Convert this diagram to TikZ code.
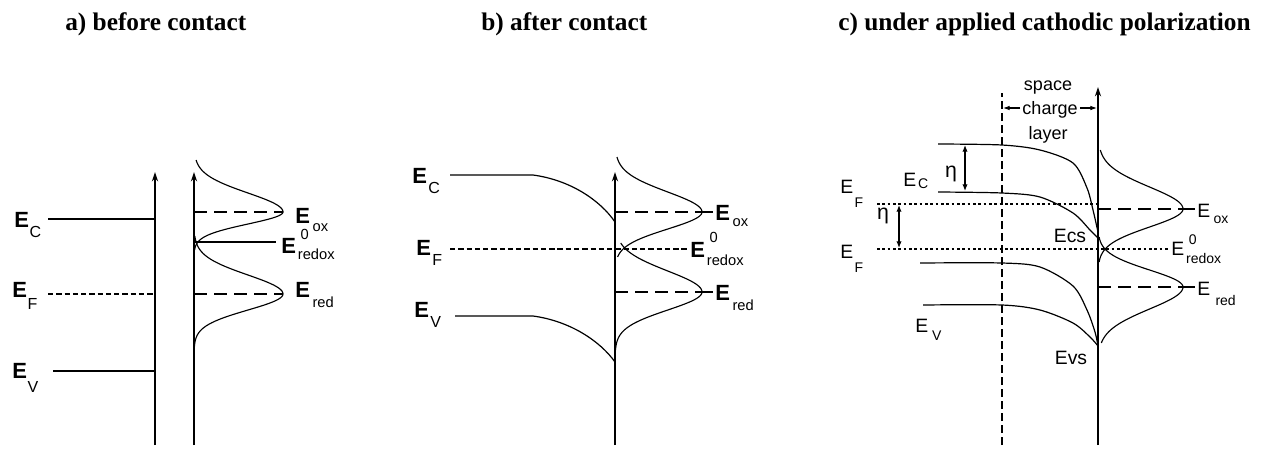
\documentclass[tikz,border=0pt]{standalone}
\usepackage{fontspec}
\setmainfont{Liberation Serif}
\setsansfont{Liberation Sans}
\usetikzlibrary{arrows.meta}
\newcommand\Es[4]{E\kern#1\raisebox{-#2}{\mdseries\fontsize{#3}{#3}\selectfont #4}}
\newcommand\Erx[5]{E\kern#1\makebox[0pt][l]{\kern#5\raisebox{#2}{\mdseries\fontsize{#4}{#4}\selectfont 0}}\raisebox{-#3}{\mdseries\fontsize{#4}{#4}\selectfont redox}}
\newcommand\lobe[7]{\draw[curve] plot[domain=#6:#7,samples=80,smooth,variable=\t] ({#1+#2*exp(-(\t*\t)/(2*ifthenelse(\t<0,#4,#5)^2))},{#3+\t});}
\begin{document}
\begin{tikzpicture}[x=0.75pt,y=-0.75pt,
 axis/.style={line width=1.5pt,-{Stealth[length=7pt,width=4.5pt]}},
 band/.style={line width=0.9pt},
 curve/.style={line width=0.85pt},
 sdash/.style={line width=0.9pt,dash pattern=on 4pt off 2.2pt},
 ldash/.style={line width=0.9pt,dash pattern=on 10pt off 5pt},
 fdot/.style={line width=0.8pt,dash pattern=on 2pt off 2pt},
 vdash/.style={line width=0.9pt,dash pattern=on 6pt off 3pt},
 harrow/.style={line width=0.9pt,{Latex[length=5pt,width=4pt]}-{Latex[length=5pt,width=4pt]}},
 sarrow/.style={line width=0.8pt,-{Latex[length=5pt,width=3.5pt]}},
 title/.style={inner sep=0pt,anchor=base west,font=\bfseries\fontsize{19}{19}\selectfont},
 labA/.style={inner sep=0pt,anchor=base west,font=\sffamily\bfseries\fontsize{16.5}{16.5}\selectfont},
 labC/.style={inner sep=0pt,anchor=base west,font=\sffamily\fontsize{14.5}{14.5}\selectfont},
 small/.style={inner sep=0pt,anchor=base,font=\sffamily\fontsize{13.5}{13.5}\selectfont},
]
\useasboundingbox (0,0) rectangle (1264,451);
% titles
\node[title] (ta) at (65,30) {a) before contact};
\node[title] (tb) at (481,30) {b) after contact};
\node[title] (tc) at (838,30) {c) under applied cathodic polarization};

% ---------- panel a ----------
\coordinate (a1b) at (155,445); \coordinate (a1t) at (155,172);
\coordinate (a2b) at (194,445); \coordinate (a2t) at (194,172);
\draw[axis] (a1b) -- (a1t);
\draw[axis] (a2b) -- (a2t);
\node[labA] (aEC) at (14,227) {\Es{0.5pt}{8pt}{12}{C}};
\node[labA] (aEF) at (12,297) {\Es{0.5pt}{9.5pt}{12}{F}};
\node[labA] (aEV) at (12,378) {\Es{0.5pt}{11pt}{12}{V}};
\draw[band] (48,219) -- (155,219);
\draw[sdash] (48,294) -- (155,294);
\draw[band] (53,371) -- (155,371);
\lobe{194}{89}{212}{19}{12}{-52}{38}
\lobe{194}{89}{294}{19}{16}{-58}{56}
\draw[ldash] (194,212) -- (283,212);
\draw[ldash] (194,294) -- (283,294);
\draw[band] (194,242) -- (276,242);
\node[labA] (aEox) at (295,223) {\Es{2pt}{6.5pt}{11}{ox}};
\node[labA] (aErx) at (281,253) {\Erx{1.5pt}{10.5pt}{4.5pt}{11}{2pt}};
\node[labA] (aEred) at (295,297) {\Es{2pt}{7.5pt}{11}{red}};

% ---------- panel b ----------
\coordinate (bb) at (615,445); \coordinate (bt) at (615,172);
\draw[axis] (bb) -- (bt);
\node[labA] (bEC) at (412,183) {\Es{1pt}{7.5pt}{12}{C}};
\node[labA] (bEF) at (416,255) {\Es{1pt}{7.5pt}{12}{F}};
\node[labA] (bEV) at (414,317) {\Es{1pt}{8pt}{12}{V}};
\draw[band] (450,175) -- (533,175) .. controls (570,180) and (600,200) .. (615,222);
\draw[band] (455,316) -- (533,316) .. controls (570,321) and (600,341) .. (615,362);
\draw[sdash] (450,249) -- (687,249);
\lobe{615}{87}{212}{20}{17}{-55}{45}
\lobe{615}{87}{292}{21}{18}{-49}{58}
\draw[ldash] (615,212) -- (702,212);
\draw[ldash] (615,292) -- (702,292);
\draw[band] (702,212) -- (713,212);
\draw[band] (702,292) -- (713,292);
\node[labA] (bEox) at (715,220) {\Es{2pt}{5pt}{11}{ox}};
\node[labA] (bErx) at (690,257) {\Erx{1.5pt}{11pt}{6pt}{11}{2pt}};
\node[labA] (bEred) at (715,300) {\Es{2pt}{7.5pt}{11}{red}};

% ---------- panel c ----------
\coordinate (cb) at (1098,445); \coordinate (ct) at (1098,87);
\draw[axis] (cb) -- (ct);
\coordinate (db) at (1002,445); \coordinate (dt) at (1002,93);
\draw[vdash] (db) -- (dt);
\node[small] (sp) at (1048,90) {space};
\node[small] (ch) at (1050,114) {charge};
\node[small] (ly) at (1048,139) {layer};
\draw[sarrow] (ch.west |- 0,108) ++(-2,0) -- (1003,108);
\draw[sarrow] (ch.east |- 0,108) ++(2,0) -- (1097,108);
% bands
\draw[band] plot[smooth,tension=0.5] coordinates {(938,144) (1002,145) (1040,150) (1073,163) (1087,188) (1093,210) (1098,232)};
\draw[band] plot[smooth,tension=0.5] coordinates {(938,192) (1002,193) (1040,197) (1073,213) (1090,230) (1098,238)};
\draw[band] plot[smooth,tension=0.5] coordinates {(920,263) (1002,263) (1040,267) (1073,286) (1087,310) (1095,332) (1098,346)};
\draw[band] plot[smooth,tension=0.5] coordinates {(923,305) (1002,305) (1040,310) (1073,323) (1090,337) (1098,346)};
\draw[fdot] (877,204) -- (1096,204);
\draw[fdot] (877,249) -- (1168,249);
\draw[harrow] (965,145) -- (965,191);
\draw[harrow] (899,205) -- (899,248);
\node[labC,anchor=center,font=\sffamily\fontsize{16}{16}\selectfont] (eta1) at (951,174) {η};
\node[labC,anchor=center,font=\sffamily\fontsize{16}{16}\selectfont] (eta2) at (883,216) {η};
\node[labC] (cEC) at (903,186) {\Es{1.5pt}{1.5pt}{10.5}{C}};
\node[labC] (cEF1) at (840,193) {\Es{1pt}{10.5pt}{10.5}{F}};
\node[labC] (cEF2) at (840,258) {\Es{1pt}{10.5pt}{10.5}{F}};
\node[labC] (cEV) at (915,332) {\Es{3pt}{6pt}{10.5}{V}};
\node[labC,anchor=center] (ecs) at (1070,236) {Ecs};
\node[labC,anchor=center] (evs) at (1071,358) {Evs};
\lobe{1098}{85}{209}{22}{18}{-59}{53}
\lobe{1098}{85}{287}{17}{22}{-50}{56}
\draw[ldash] (1098,209) -- (1183,209);
\draw[ldash] (1098,287) -- (1183,287);
\draw[band] (1183,209) -- (1195,209);
\draw[band] (1183,287) -- (1195,287);
\node[labC] (cEox) at (1197,217) {\Es{2.5pt}{4.5pt}{10.5}{ox}};
\node[labC] (cErx) at (1171,255) {\Erx{1.5pt}{8pt}{6pt}{10.5}{2pt}};
\node[labC] (cEred) at (1197,295) {\Es{4pt}{7.5pt}{10.5}{red}};
\end{tikzpicture}
\end{document}
